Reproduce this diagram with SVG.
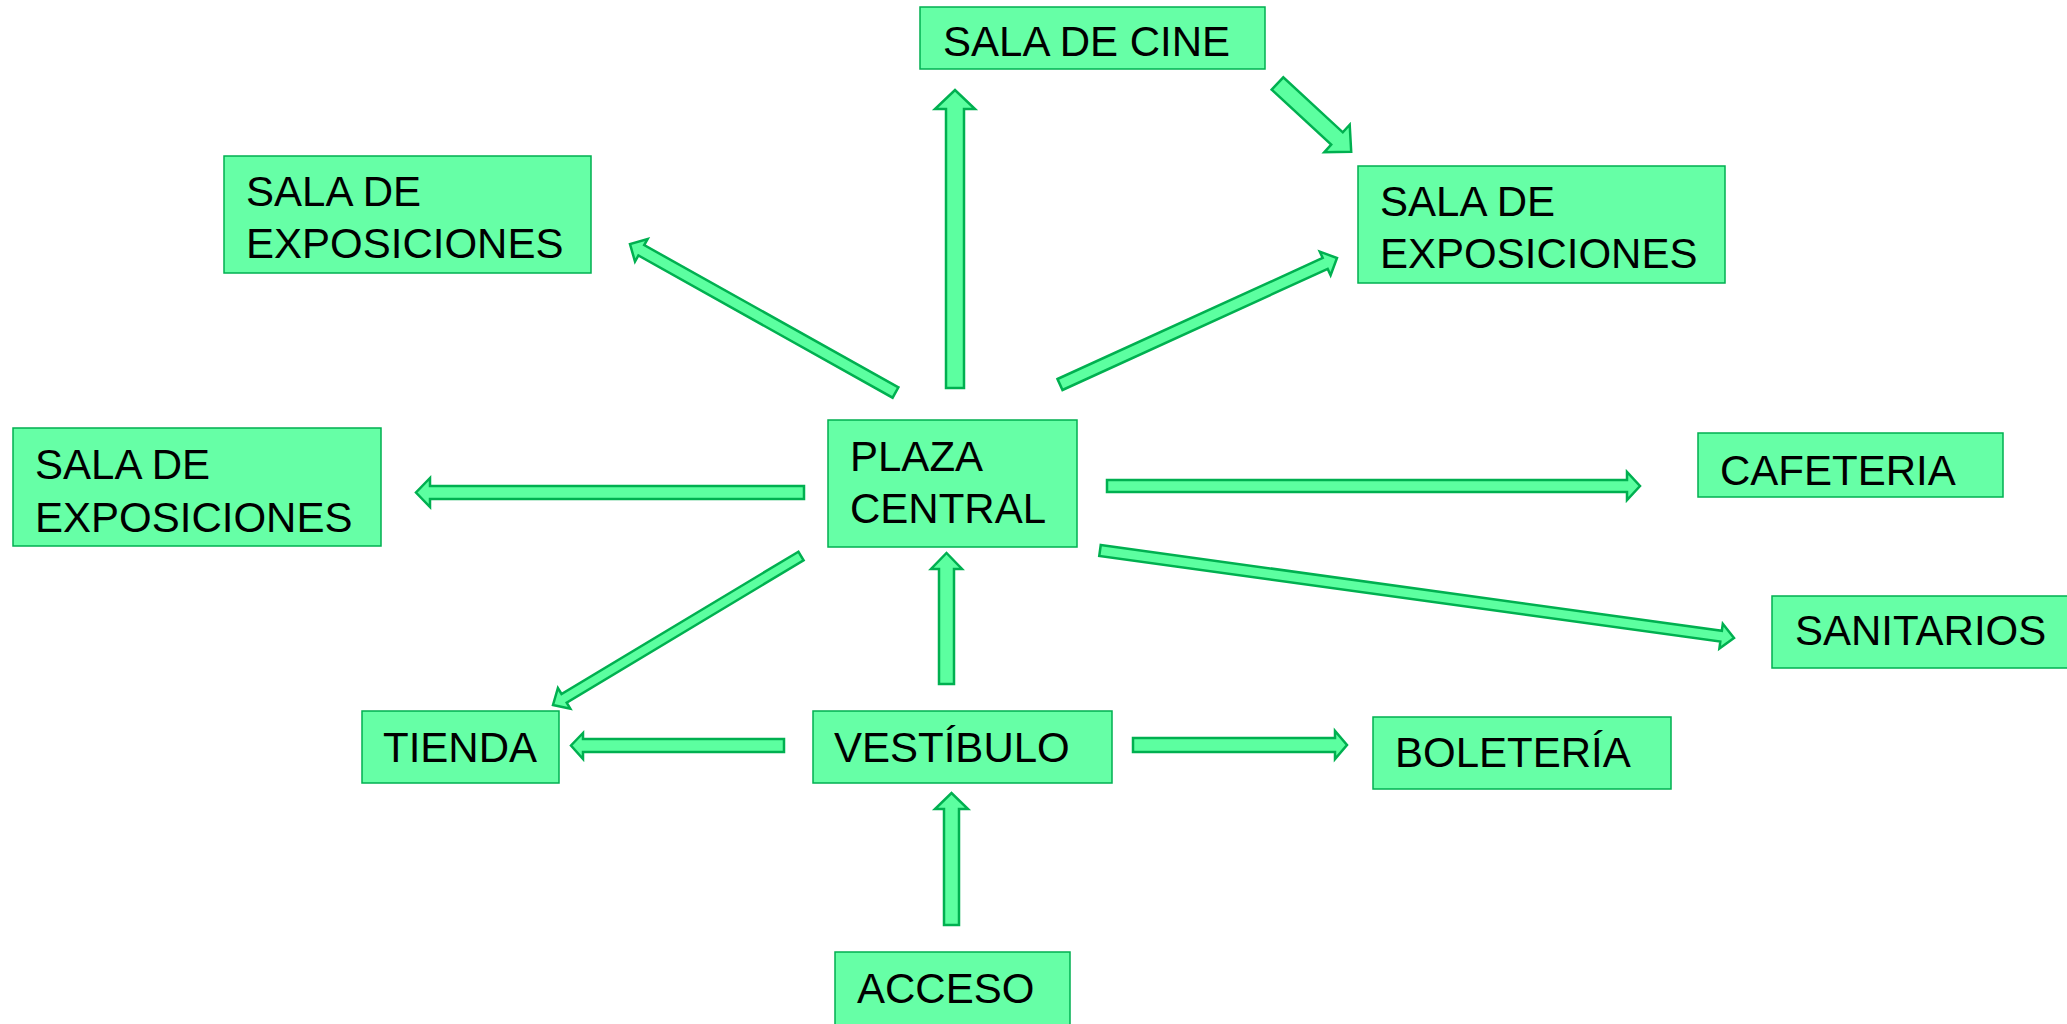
<svg xmlns="http://www.w3.org/2000/svg" width="2067" height="1024" viewBox="0 0 2067 1024">
<style>
.box{fill:#66FFA6;stroke:#00B050;stroke-width:1.5}
.arr{fill:#5CFFA0;stroke:#00B050;stroke-width:2.5;stroke-linejoin:miter}
text{font-family:"Liberation Sans",Arial,sans-serif;font-size:42px;fill:#000}
</style>
<rect width="2067" height="1024" fill="#fff"/>
<g id="connectors">
<polygon class="arr" points="946,388 946,109 935,109 955,90 975,109 964,109 964,388"/>
<polygon class="arr" points="1271.7,89.7 1283.3,77.3 1342.8,132.3 1349.7,124.7 1351.2,151.7 1324.3,152.3 1331.2,144.7"/>
<polygon class="arr" points="898.4,387.3 644.2,245.1 647.6,239 630,244 635,261.6 638.4,255.5 892.6,397.7"/>
<polygon class="arr" points="1057.5,379 1322.7,258 1319.8,251.6 1337,258 1330.6,275.2 1327.7,268.9 1062.5,390"/>
<polygon class="arr" points="804,486 430,486 430,478 416,492.5 430,507 430,499 804,499"/>
<polygon class="arr" points="1107,480 1627,480 1627,472 1640,486 1627,500 1627,492 1107,492"/>
<polygon class="arr" points="1100.75,545 1721.85,630.75 1722.8,623.8 1734,638 1719.4,648.6 1720.3,641.6 1099.25,556"/>
<polygon class="arr" points="798.4,551.7 561.5,694 557.9,688 553,705 570.3,708.6 566.7,702.6 803.6,560.3"/>
<polygon class="arr" points="939,684 939,569 931,569 946.5,553 962,569 954,569 954,684"/>
<polygon class="arr" points="784,739 583,739 583,733 571,745.5 583,759 583,752 784,752"/>
<polygon class="arr" points="1133,738 1335,738 1335,731 1347,745 1335,759 1335,752 1133,752"/>
<polygon class="arr" points="944,925 944,809 935,809 951.5,793 968,809 959,809 959,925"/>
</g>
<g id="sala-cine"><rect class="box" x="920" y="7" width="345" height="62"/><text x="943" y="56">SALA DE CINE</text></g>
<g id="expo-top-left"><rect class="box" x="224" y="156" width="367" height="117"/><text x="246" y="206">SALA DE</text><text x="246" y="258">EXPOSICIONES</text></g>
<g id="expo-top-right"><rect class="box" x="1358" y="166" width="367" height="117"/><text x="1380" y="216">SALA DE</text><text x="1380" y="268">EXPOSICIONES</text></g>
<g id="expo-left"><rect class="box" x="13" y="428" width="368" height="118"/><text x="35" y="479">SALA DE</text><text x="35" y="532">EXPOSICIONES</text></g>
<g id="plaza-central"><rect class="box" x="828" y="420" width="249" height="127"/><text x="850" y="471">PLAZA</text><text x="850" y="523">CENTRAL</text></g>
<g id="cafeteria"><rect class="box" x="1698" y="433" width="305" height="64"/><text x="1720" y="485">CAFETERIA</text></g>
<g id="sanitarios"><rect class="box" x="1772" y="596" width="300" height="72"/><text x="1795" y="645">SANITARIOS</text></g>
<g id="tienda"><rect class="box" x="362" y="711" width="197" height="72"/><text x="383" y="762">TIENDA</text></g>
<g id="vestibulo"><rect class="box" x="813" y="711" width="299" height="72"/><text x="834" y="762">VESTÍBULO</text></g>
<g id="boleteria"><rect class="box" x="1373" y="717" width="298" height="72"/><text x="1395" y="767">BOLETERÍA</text></g>
<g id="acceso"><rect class="box" x="835" y="952" width="235" height="80"/><text x="857" y="1003">ACCESO</text></g>
</svg>
